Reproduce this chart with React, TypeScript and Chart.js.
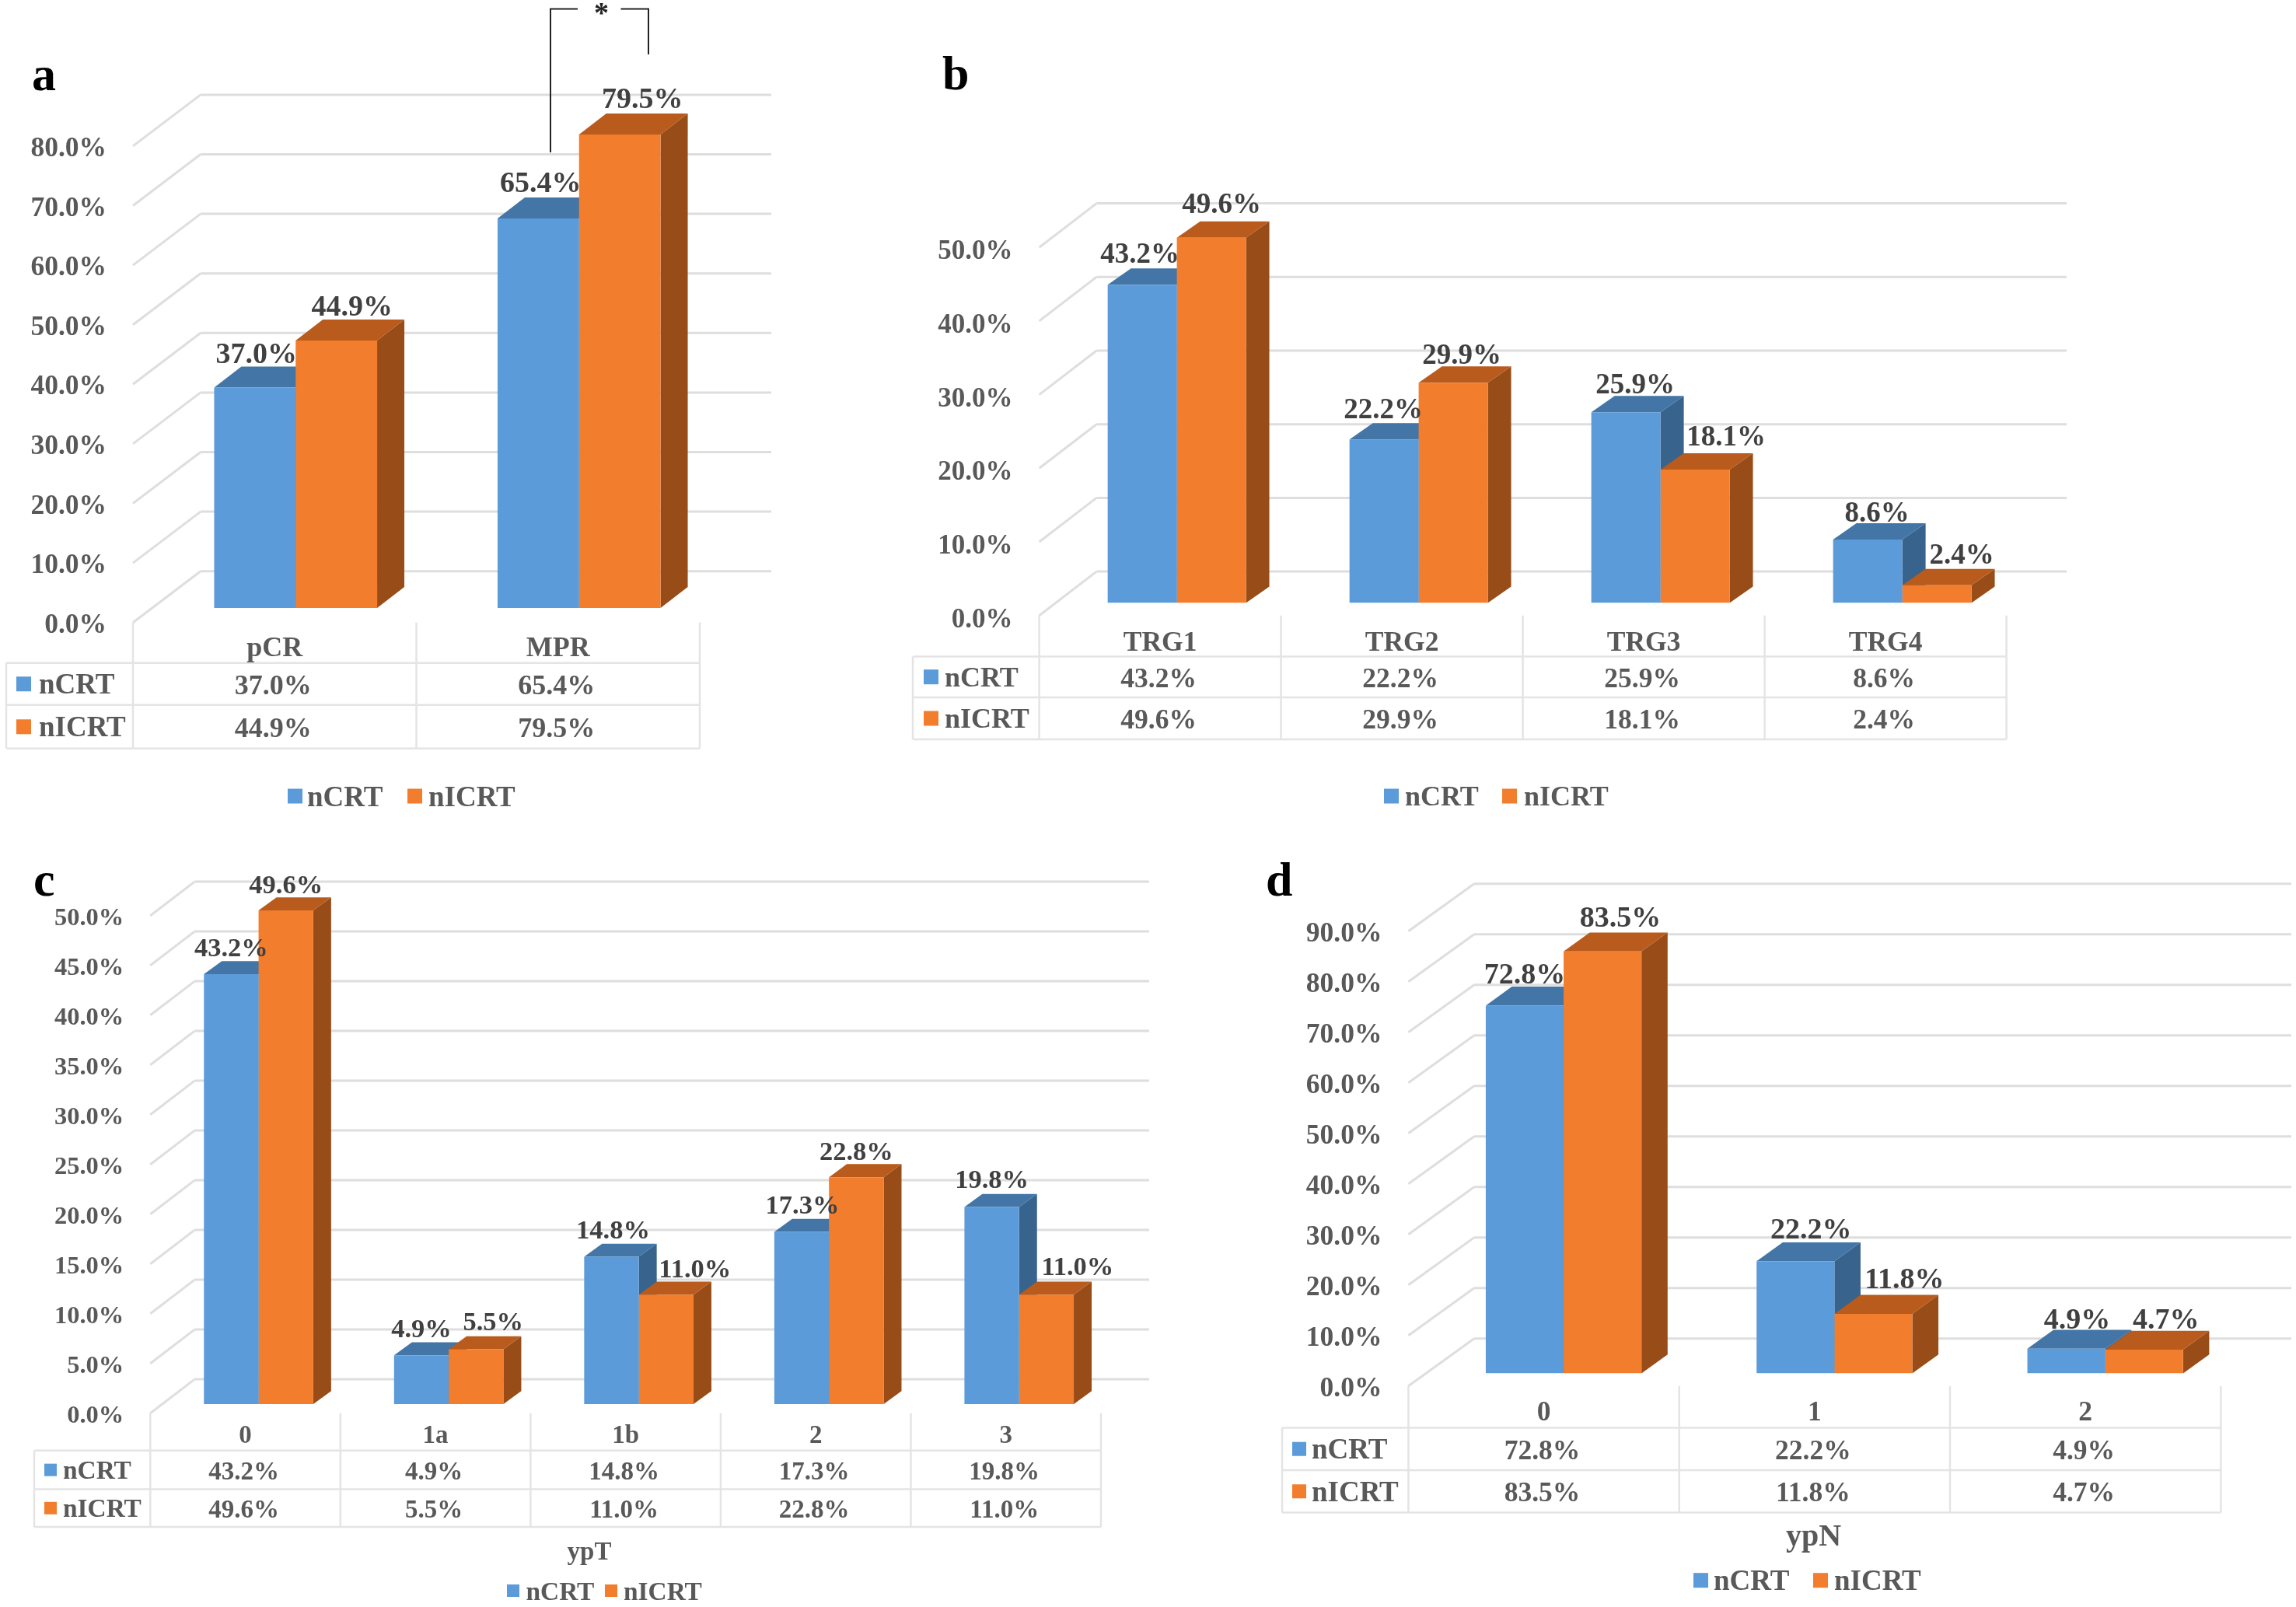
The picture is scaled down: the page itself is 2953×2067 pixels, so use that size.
import React, { useEffect, useRef } from "react";
import { Chart, registerables } from "chart.js";

Chart.register(...registerables);

const W = 2953;
const H = 2067;
const FONT = '"Liberation Serif", "Times New Roman", serif';

const seriesNames = ["nCRT", "nICRT"];

const categoriesA = ["pCR", "MPR"];
const nCRTA = [37.0, 65.4];
const nICRTA = [44.9, 79.5];

const categoriesB = ["TRG1", "TRG2", "TRG3", "TRG4"];
const nCRTB = [43.2, 22.2, 25.9, 8.6];
const nICRTB = [49.6, 29.9, 18.1, 2.4];

const categoriesC = ["0", "1a", "1b", "2", "3"];
const nCRTC = [43.2, 4.9, 14.8, 17.3, 19.8];
const nICRTC = [49.6, 5.5, 11.0, 22.8, 11.0];

const categoriesD = ["0", "1", "2"];
const nCRTD = [72.8, 22.2, 4.9];
const nICRTD = [83.5, 11.8, 4.7];

const COLORS = [
  { front: "#5B9BD9", top: "#4375A6", side: "#37638C" },
  { front: "#F27D2D", top: "#B85B1D", side: "#984C17" },
];
const GRID = "#DEDEDE";
const TABLE_LINE = "#E4E4E4";
const AXIS_TEXT = "#595959";
const LABEL_TEXT = "#404040";

type Panel = {
  letter: string;
  letterX: number;
  letterY: number;
  categories: string[];
  a: number[];
  b: number[];
  yMax: number;
  step: number;
  axisLeft: number;
  axisRight: number;
  gridRight: number;
  labelLeft: number;
  frontY0: number;
  planeY0: number;
  unitPx: number; // pixels per value unit
  planeDx: number;
  backDx: number;
  backDy: number;
  depthX: number;
  depthY: number;
  barFrac: number;
  rows: number[];
  tickFont: number;
  tickDy: number;
  catDy: number;
  dataFont: number;
  tableFont: number;
  swatchX: number;
  swatch: number;
  rowTextX: number;
  nudges: [number, number][][];
  legendY: number;
  legend: { swatchX: number; textX: number }[];
  legendFont: number;
  legendSwatch: number;
  title?: { text: string; x: number; y: number; size: number };
  bracket?: boolean;
};

const panels: Panel[] = [
  {
    letter: "a", letterX: 41, letterY: 116,
    categories: categoriesA, a: nCRTA, b: nICRTA, yMax: 80, step: 10,
    axisLeft: 171, axisRight: 900, gridRight: 992, labelLeft: 8,
    frontY0: 800.7, planeY0: 782, unitPx: 7.66, planeDx: 27, backDx: 87, backDy: 66,
    depthX: 35, depthY: 27, barFrac: 0.575,
    rows: [852.7, 906.8, 962.8],
    tickFont: 35.5, tickDy: 1, catDy: 2, dataFont: 38, tableFont: 36,
    swatchX: 21, swatch: 19, rowTextX: 50,
    nudges: [[[2, 44], [3, 47]], [[20, 44.5], [29, 47]]],
    legendY: 1024, legend: [{ swatchX: 370, textX: 395 }, { swatchX: 524, textX: 551 }],
    legendFont: 37, legendSwatch: 19,
    bracket: true,
  },
  {
    letter: "b", letterX: 1212, letterY: 115,
    categories: categoriesB, a: nCRTB, b: nICRTB, yMax: 50, step: 10,
    axisLeft: 1336.6, axisRight: 2580.6, gridRight: 2658, labelLeft: 1174,
    frontY0: 791.7, planeY0: 775.4, unitPx: 9.47, planeDx: 21.5, backDx: 73.7, backDy: 56.6,
    depthX: 30, depthY: 21, barFrac: 0.572,
    rows: [844.4, 897, 951],
    tickFont: 35, tickDy: 3, catDy: 4, dataFont: 37, tableFont: 35.5,
    swatchX: 1188, swatch: 19, rowTextX: 1215,
    nudges: [[[-3, 41], [-1, 40], [12, 37], [12, 36]], [[13, 44.6], [11, 37], [40, 44], [32, 40]]],
    legendY: 1024, legend: [{ swatchX: 1780, textX: 1807 }, { swatchX: 1932, textX: 1960 }],
    legendFont: 36, legendSwatch: 19,
  },
  {
    letter: "c", letterX: 43, letterY: 1152,
    categories: categoriesC, a: nCRTC, b: nICRTC, yMax: 50, step: 5,
    axisLeft: 193.3, axisRight: 1416, gridRight: 1478, labelLeft: 44,
    frontY0: 1817.7, planeY0: 1806, unitPx: 12.8, planeDx: 17, backDx: 57, backDy: 43.6,
    depthX: 23, depthY: 16.8, barFrac: 0.575,
    rows: [1865.7, 1915.6, 1964],
    tickFont: 32.5, tickDy: 1, catDy: 0, dataFont: 34.5, tableFont: 33,
    swatchX: 57, swatch: 16, rowTextX: 81,
    nudges: [[[0, 35], [0, 35], [2, 35.5], [1, 35.5], [0, 36.5]], [[0, 34.5], [22, 36.5], [37, 34], [0, 34.5], [40, 37]]],
    legendY: 2046, legend: [{ swatchX: 652, textX: 676.5 }, { swatchX: 778, textX: 802 }],
    legendFont: 33.4, legendSwatch: 16,
    title: { text: "ypT", x: 758, y: 1994, size: 33 },
  },
  {
    letter: "d", letterX: 1628, letterY: 1152,
    categories: categoriesD, a: nCRTD, b: nICRTD, yMax: 90, step: 10,
    axisLeft: 1811.4, axisRight: 2856.3, gridRight: 2947, labelLeft: 1649,
    frontY0: 1782.8, planeY0: 1766.6, unitPx: 6.5, planeDx: 25.5, backDx: 84.6, backDy: 61,
    depthX: 33.6, depthY: 24.3, barFrac: 0.575,
    rows: [1836.4, 1891, 1945.5],
    tickFont: 35.5, tickDy: 1, catDy: 2, dataFont: 38, tableFont: 35.5,
    swatchX: 1662, swatch: 18, rowTextX: 1687,
    nudges: [[[0, 41.5], [20, 42], [14, 38.5]], [[23, 44.5], [40, 45.5], [28, 39.5]]],
    legendY: 2032.7, legend: [{ swatchX: 2178, textX: 2204 }, { swatchX: 2332, textX: 2359 }],
    legendFont: 37, legendSwatch: 19,
    title: { text: "ypN", x: 2332.5, y: 1975, size: 40 },
  },
];

const pct = (v: number) => v.toFixed(1) + "%";

function poly(ctx: CanvasRenderingContext2D, pts: number[][], fill: string) {
  ctx.beginPath();
  pts.forEach((p, i) => (i ? ctx.lineTo(p[0], p[1]) : ctx.moveTo(p[0], p[1])));
  ctx.closePath();
  ctx.fillStyle = fill;
  ctx.fill();
}

function line(ctx: CanvasRenderingContext2D, x1: number, y1: number, x2: number, y2: number) {
  ctx.beginPath();
  ctx.moveTo(x1, y1);
  ctx.lineTo(x2, y2);
  ctx.stroke();
}

function text(
  ctx: CanvasRenderingContext2D,
  s: string,
  x: number,
  y: number,
  size: number,
  color: string,
  align: CanvasTextAlign = "center",
  baseline: CanvasTextBaseline = "middle",
) {
  ctx.font = `bold ${size}px ${FONT}`;
  ctx.fillStyle = color;
  ctx.textAlign = align;
  ctx.textBaseline = baseline;
  ctx.fillText(s, x, baseline === "middle" ? y + 3 : y);
}

function makePlugin(p: Panel) {
  return {
    id: "office3d",
    beforeDatasetsDraw(chart: any) {
      const ctx: CanvasRenderingContext2D = chart.ctx;
      const yScale = chart.scales.y;
      ctx.save();
      // walls: diagonal and back gridlines
      ctx.strokeStyle = GRID;
      ctx.lineWidth = 3;
      const offFront = p.frontY0 - p.planeY0;
      yScale.ticks.forEach((t: any) => {
        const py = yScale.getPixelForValue(t.value);
        const fy = py + offFront;
        const by = fy - p.backDy;
        const bx = p.axisLeft + p.backDx;
        line(ctx, p.axisLeft, fy, bx, by);
        line(ctx, bx, by, p.gridRight, by);
      });
      // extrusions
      chart.data.labels.forEach((_: string, i: number) => {
        [0, 1].forEach((ds) => {
          const el = chart.getDatasetMeta(ds).data[i];
          const l = el.x - el.width / 2;
          const r = el.x + el.width / 2;
          const c = COLORS[ds];
          const dx = p.depthX;
          const dy = p.depthY;
          poly(ctx, [[r, el.y], [r + dx, el.y - dy], [r + dx, el.base - dy], [r, el.base]], c.side);
          poly(ctx, [[l, el.y], [l + dx, el.y - dy], [r + dx, el.y - dy], [r, el.y]], c.top);
        });
      });
      ctx.restore();
    },
    afterDatasetsDraw(chart: any) {
      const ctx: CanvasRenderingContext2D = chart.ctx;
      const yScale = chart.scales.y;
      const offFront = p.frontY0 - p.planeY0;
      ctx.save();
      // y tick labels
      yScale.ticks.forEach((t: any) => {
        text(ctx, pct(t.value), p.axisLeft - 34, yScale.getPixelForValue(t.value) + offFront + p.tickDy, p.tickFont, AXIS_TEXT, "right");
      });
      // data labels
      [0, 1].forEach((ds) => {
        const meta = chart.getDatasetMeta(ds);
        meta.data.forEach((el: any, i: number) => {
          const n = p.nudges[ds][i];
          text(ctx, pct(chart.data.datasets[ds].data[i]), el.x + n[0], el.y - n[1], p.dataFont, LABEL_TEXT);
        });
      });
      // data table
      ctx.strokeStyle = TABLE_LINE;
      ctx.lineWidth = 2.5;
      const colW = (p.axisRight - p.axisLeft) / p.categories.length;
      const [r1, r2, r3] = p.rows;
      for (let i = 0; i <= p.categories.length; i++) {
        line(ctx, p.axisLeft + i * colW, p.frontY0, p.axisLeft + i * colW, r3);
      }
      line(ctx, p.labelLeft, r1, p.labelLeft, r3);
      [r1, r2, r3].forEach((r) => line(ctx, p.labelLeft, r, p.axisRight, r));
      const rowYs = [(r1 + r2) / 2, (r2 + r3) / 2];
      p.categories.forEach((cat, i) => {
        const cx = p.axisLeft + (i + 0.5) * colW;
        text(ctx, cat, cx, (p.frontY0 + r1) / 2 + 3 + p.catDy, p.tableFont, AXIS_TEXT);
        [0, 1].forEach((ds) => {
          text(ctx, pct(chart.data.datasets[ds].data[i]), cx - 2, rowYs[ds] + 1, p.tableFont, AXIS_TEXT);
        });
      });
      [0, 1].forEach((ds) => {
        ctx.fillStyle = COLORS[ds].front;
        ctx.fillRect(p.swatchX, rowYs[ds] - p.swatch / 2, p.swatch, p.swatch);
        text(ctx, chart.data.datasets[ds].label, p.rowTextX, rowYs[ds], p.legendFont, AXIS_TEXT, "left");
      });
      // legend
      [0, 1].forEach((ds) => {
        const e = p.legend[ds];
        ctx.fillStyle = COLORS[ds].front;
        ctx.fillRect(e.swatchX, p.legendY - p.legendSwatch / 2, p.legendSwatch, p.legendSwatch);
        text(ctx, chart.data.datasets[ds].label, e.textX, p.legendY, p.legendFont, AXIS_TEXT, "left");
      });
      if (p.title) text(ctx, p.title.text, p.title.x, p.title.y, p.title.size, AXIS_TEXT);
      text(ctx, p.letter, p.letterX, p.letterY, 62, "#000000", "left", "alphabetic");
      if (p.bracket) {
        ctx.strokeStyle = "#222222";
        ctx.lineWidth = 2;
        ctx.beginPath();
        ctx.moveTo(708, 196);
        ctx.lineTo(708, 11.5);
        ctx.lineTo(743, 11.5);
        ctx.moveTo(798.5, 11.5);
        ctx.lineTo(834, 11.5);
        ctx.lineTo(834, 70);
        ctx.stroke();
        ctx.font = `bold 38px ${FONT}`;
        ctx.fillStyle = "#222222";
        ctx.textAlign = "center";
        ctx.textBaseline = "middle";
        ctx.fillText("*", 773.6, 19);
      }
      ctx.restore();
    },
  };
}

function PanelChart({ panel }: { panel: Panel }) {
  const ref = useRef<HTMLCanvasElement | null>(null);
  useEffect(() => {
    if (!ref.current) return;
    const p = panel;
    const chartLeft = p.axisLeft + p.planeDx;
    const chartRight = p.axisRight + p.planeDx;
    const chartTop = p.planeY0 - p.yMax * p.unitPx;
    const chart = new Chart(ref.current, {
      type: "bar",
      data: {
        labels: p.categories,
        datasets: [
          { label: seriesNames[0], data: p.a, backgroundColor: COLORS[0].front, borderWidth: 0 },
          { label: seriesNames[1], data: p.b, backgroundColor: COLORS[1].front, borderWidth: 0 },
        ],
      },
      options: {
        animation: false,
        responsive: false,
        devicePixelRatio: 1,
        layout: {
          padding: { left: chartLeft, right: W - chartRight, top: chartTop, bottom: H - p.planeY0 },
        },
        datasets: { bar: { barPercentage: 1, categoryPercentage: p.barFrac } },
        scales: {
          x: { display: false, grid: { display: false } },
          y: {
            display: false,
            min: 0,
            max: p.yMax,
            ticks: { stepSize: p.step },
            grid: { display: false },
          },
        },
        plugins: { legend: { display: false }, tooltip: { enabled: false } },
      } as any,
      plugins: [makePlugin(p)],
    });
    return () => chart.destroy();
  }, [panel]);
  return (
    <canvas
      ref={ref}
      width={W}
      height={H}
      style={{ position: "absolute", left: 0, top: 0, width: W, height: H, display: "block" }}
    />
  );
}

export default function App() {
  return (
    <div style={{ position: "fixed", left: 0, top: 0, width: W, height: H, background: "#fff", overflow: "hidden" }}>
      {panels.map((p) => (
        <PanelChart key={p.letter} panel={p} />
      ))}
    </div>
  );
}
